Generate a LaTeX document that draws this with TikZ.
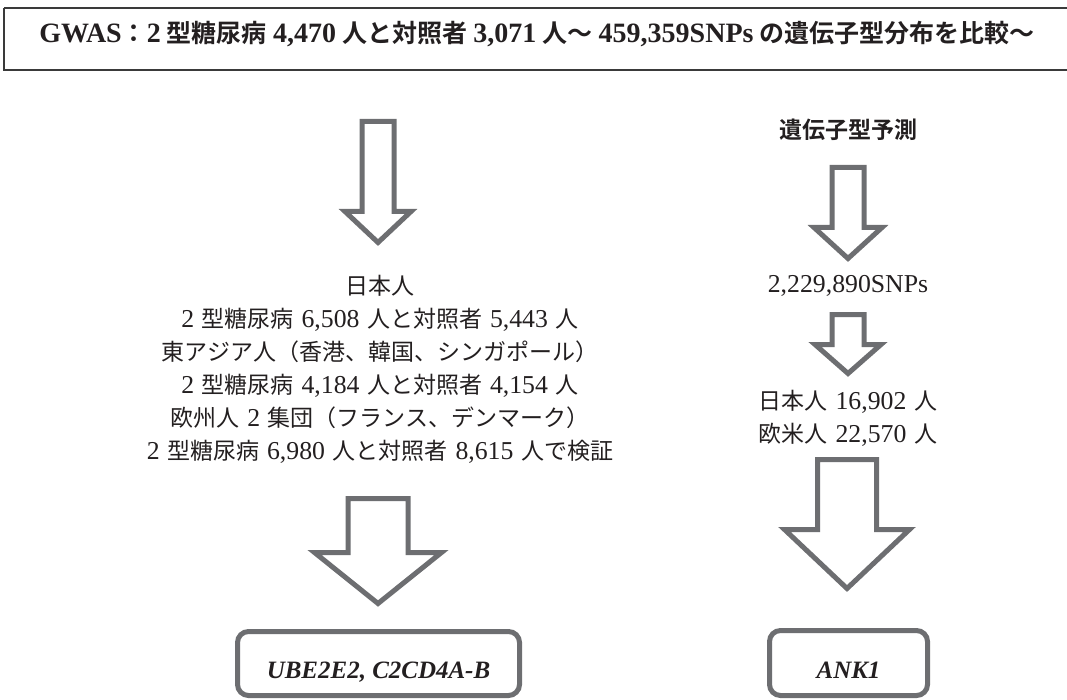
\documentclass[tikz,border=0pt]{standalone}
\usepackage{fontspec}
\setmainfont{Liberation Serif}[Scale=1.12]
\newfontfamily\jp{Noto Sans CJK JP}[BoldFont=Noto Sans CJK JP Bold]
\newcommand\J[1]{{\jp #1}}
\newcommand\gp{\hspace{0.3em}}
\newcommand\tg{\hspace{0.22em}}
\definecolor{arrowgray}{HTML}{6D6E71}
\definecolor{framedark}{HTML}{3A3A3A}
\definecolor{ink}{HTML}{231F20}
\tikzset{
  blockarr/.style={draw=arrowgray, fill=white, line width=5pt, line join=miter, miter limit=10},
  titleframe/.style={draw=framedark, line width=2.4pt},
  titletext/.style={text=ink, font=\fontsize{25}{28}\selectfont\bfseries, inner sep=0pt, anchor=base},
  midtext/.style={text=ink, font=\fontsize{23}{33}\selectfont, align=center, inner sep=0pt},
  headtext/.style={text=ink, font=\fontsize{23}{28}\selectfont\bfseries, inner sep=0pt, anchor=base},
  genebox/.style={draw=arrowgray, fill=white, line width=5pt, rounded corners=11pt,
    text=ink, font=\fontsize{22.3}{26}\selectfont\bfseries\itshape,
    inner sep=0pt, text height=30pt, text depth=0pt}
}
\newcommand\blockarrow[6]{%
  \draw[blockarr] ({#1-#3},#2) -- ({#1+#3},#2) -- ({#1+#3},#4) -- ({#1+#5},#4)
    -- (#1,#6) -- ({#1-#5},#4) -- ({#1-#3},#4) -- cycle;}
\begin{document}
\begin{tikzpicture}[x=1pt, y=-1pt]
\useasboundingbox (0,0) rectangle (1067,700);
% title frame
\draw[titleframe] (4.2,8.2) -- (1080,8.2) (4.2,8.2) -- (4.2,69.8) -- (1080,69.8);
\node[titletext] (title) at (537,43)
  {GWAS\J{：}2\tg\J{型糖尿病}\tg 4,470\tg\J{人と対照者}\tg 3,071\tg\J{人～}\tg 459,359SNPs\tg\J{の遺伝子型分布を比較～}};
% left column
\blockarrow{378}{121.5}{16}{211.5}{33}{242.5}
\node[midtext] (cohort) at (380,369.6) {%
  \J{日本人}\\
  2\gp\J{型糖尿病}\gp 6,508\gp\J{人と対照者}\gp 5,443\gp\J{人}\\
  \J{東アジア人（香港、韓国、シンガポール）}\\
  2\gp\J{型糖尿病}\gp 4,184\gp\J{人と対照者}\gp 4,154\gp\J{人}\\
  \J{欧州人}\gp 2\gp\J{集団（フランス、デンマーク）}\\
  2\gp\J{型糖尿病}\gp 6,980\gp\J{人と対照者}\gp 8,615\gp\J{人で検証}};
\blockarrow{378}{498.5}{30}{552.5}{63.5}{603.5}
\node[genebox, minimum width=282pt, minimum height=64pt] (gene1) at (378.5,663.5) {UBE2E2, C2CD4A-B};
% right column
\node[headtext] (impute) at (848,139) {\J{遺伝子型予測}};
\blockarrow{848}{167.5}{16}{227.5}{34}{258.5}
\node[midtext, anchor=base] (snps) at (848,293) {2,229,890SNPs};
\blockarrow{848}{314.5}{16}{344.5}{33}{373.5}
\node[midtext] (repl) at (848,418.6) {%
  \J{日本人}\gp 16,902\gp\J{人}\\
  \J{欧米人}\gp 22,570\gp\J{人}};
\blockarrow{847}{459.5}{29.5}{529.5}{62.5}{588.5}
\node[genebox, minimum width=158pt, minimum height=65pt] (gene2) at (848.5,663) {ANK1};
\end{tikzpicture}
\end{document}
